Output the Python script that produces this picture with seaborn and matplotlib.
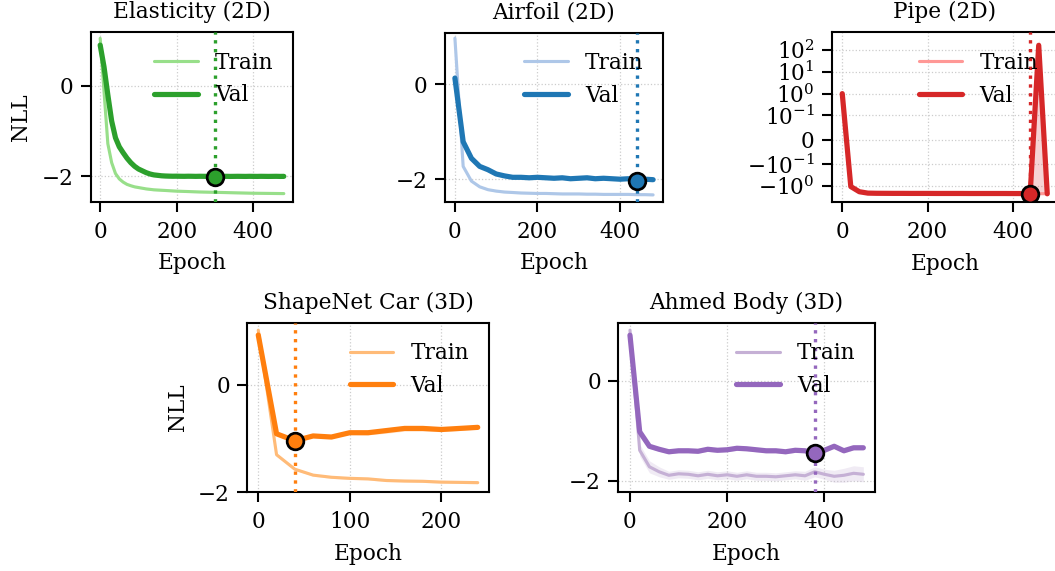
import numpy as np
import matplotlib
matplotlib.use("Agg")
import matplotlib.pyplot as plt
from matplotlib.ticker import NullLocator
import seaborn as sns

# ---------------------------------------------------------------- data
titles = ["Elasticity (2D)", "Airfoil (2D)", "Pipe (2D)", "ShapeNet Car (3D)", "Ahmed Body (3D)"]

# Elasticity (logged every 10 epochs)
elas_epochs = list(range(0, 481, 10))
elas_train = [1.05, -0.12, -1.28, -1.70, -1.94, -2.06, -2.13, -2.18, -2.21, -2.235,
              -2.25, -2.265, -2.28, -2.29, -2.30, -2.305, -2.31, -2.315, -2.32, -2.325,
              -2.33, -2.333, -2.336, -2.339, -2.342, -2.345, -2.348, -2.35, -2.352, -2.354,
              -2.356, -2.358, -2.36, -2.362, -2.364, -2.366, -2.368, -2.37, -2.372, -2.374,
              -2.376, -2.377, -2.378, -2.379, -2.38, -2.381, -2.382, -2.383, -2.384]
elas_val = [0.90, 0.42, -0.20, -0.78, -1.15, -1.35, -1.48, -1.60, -1.70, -1.78,
            -1.84, -1.88, -1.92, -1.95, -1.97, -1.98, -1.99, -1.995, -1.998, -2.000,
            -1.999, -2.001, -2.002, -2.000, -2.001, -2.003, -2.001, -2.002, -2.003, -2.004,
            -2.006, -2.004, -2.003, -2.002, -2.004, -2.003, -2.002, -2.003, -2.004, -2.002,
            -2.003, -2.004, -2.002, -2.003, -2.004, -2.003, -2.002, -2.004, -2.003]
elas_train_sd = [0.02] * 49
elas_val_sd = [0.04] * 49

# Airfoil (every 20 epochs)
air_epochs = list(range(0, 481, 20))
air_train = [0.97, -1.73, -2.04, -2.16, -2.22, -2.25, -2.27, -2.28, -2.29, -2.295,
             -2.30, -2.30, -2.305, -2.31, -2.31, -2.31, -2.315, -2.315, -2.32, -2.32,
             -2.32, -2.32, -2.325, -2.325, -2.33]
air_val = [0.13, -1.21, -1.56, -1.73, -1.80, -1.89, -1.93, -1.96, -1.96, -1.97,
           -1.96, -1.97, -1.98, -1.97, -1.99, -1.98, -1.97, -1.99, -1.98, -1.99,
           -2.00, -1.99, -2.03, -2.00, -2.01]
air_train_sd = [0.02] * 25
air_val_sd = [0.03] * 25

# Pipe (every 20 epochs, one diverging run near the end)
pipe_epochs = list(range(0, 481, 20))
pipe_train = [1.0, -1.12, -1.92, -2.22, -2.26, -2.27, -2.28, -2.28, -2.29, -2.29,
              -2.29, -2.30, -2.30, -2.30, -2.30, -2.31, -2.31, -2.31, -2.31, -2.31,
              -2.32, -2.32, -2.34, -2.33, -2.35]
pipe_val = [1.0, -1.10, -1.90, -2.20, -2.24, -2.25, -2.26, -2.26, -2.27, -2.27,
            -2.27, -2.28, -2.28, -2.28, -2.28, -2.29, -2.29, -2.29, -2.29, -2.29,
            -2.30, -2.30, -2.40, 165.0, -2.36]
pipe_train_sd = [0.02] * 25
pipe_val_sd = [0.05, 0.04, 0.03, 0.02, 0.02, 0.02, 0.02, 0.02, 0.02, 0.02,
               0.02, 0.02, 0.02, 0.02, 0.02, 0.02, 0.02, 0.02, 0.02, 0.02,
               0.02, 0.02, 0.05, 167.0, 0.04]

# ShapeNet Car (every 20 epochs)
car_epochs = list(range(0, 241, 20))
car_train = [1.02, -1.30, -1.57, -1.68, -1.72, -1.74, -1.75, -1.78, -1.79, -1.795,
             -1.81, -1.815, -1.82]
car_val = [0.93, -0.91, -1.04, -0.95, -0.97, -0.89, -0.89, -0.85, -0.81, -0.81,
           -0.83, -0.81, -0.79]
car_train_sd = [0.02] * 13
car_val_sd = [0.02, 0.03, 0.02, 0.03, 0.02, 0.03, 0.04, 0.05, 0.05, 0.05, 0.04, 0.04, 0.03]

# Ahmed Body (every 20 epochs)
ahmed_epochs = list(range(0, 481, 20))
ahmed_train = [1.01, -1.39, -1.72, -1.82, -1.89, -1.86, -1.87, -1.90, -1.87, -1.90,
               -1.88, -1.91, -1.88, -1.91, -1.91, -1.92, -1.90, -1.88, -1.90, -1.82,
               -1.87, -1.91, -1.89, -1.85, -1.87]
ahmed_val = [0.91, -1.02, -1.31, -1.37, -1.42, -1.40, -1.40, -1.41, -1.37, -1.39,
             -1.38, -1.35, -1.36, -1.38, -1.40, -1.40, -1.42, -1.39, -1.40, -1.45,
             -1.39, -1.31, -1.40, -1.34, -1.34]
ahmed_train_sd = [0.10, 0.12, 0.12, 0.10, 0.08, 0.08, 0.08, 0.08, 0.08, 0.08,
                  0.08, 0.08, 0.08, 0.08, 0.08, 0.08, 0.08, 0.08, 0.09, 0.10,
                  0.10, 0.12, 0.14, 0.15, 0.15]
ahmed_val_sd = [0.04] * 25

train_colors = ["#98df8a", "#aec7e8", "#ff9896", "#ffbb78", "#c5b0d5"]
val_colors = ["#2ca02c", "#1f77b4", "#d62728", "#ff7f0e", "#9467bd"]

# ---------------------------------------------------------------- style
sns.set_theme(context="paper", style="ticks")
plt.rcParams["font.family"] = ["DejaVu Serif"]
plt.rcParams["mathtext.fontset"] = "dejavuserif"
FS = 10.4
plt.rcParams.update({
    "font.size": FS, "axes.titlesize": FS, "axes.labelsize": FS,
    "xtick.labelsize": FS, "ytick.labelsize": FS, "legend.fontsize": FS,
    "axes.linewidth": 1.0, "xtick.major.width": 1.0, "ytick.major.width": 1.0,
    "xtick.major.size": 4.8, "ytick.major.size": 4.8,
    "xtick.major.pad": 4.3, "ytick.major.pad": 3.5,
    "axes.titlepad": 6.8, "axes.labelpad": 4.5,
    "axes.edgecolor": "black", "xtick.color": "black", "ytick.color": "black",
    "text.color": "black", "axes.labelcolor": "black",
})

W, H = 1055, 571
fig = plt.figure(figsize=(W / 150, H / 150), dpi=150)


def add_axes_px(left, top, right, bottom):
    return fig.add_axes([left / W, 1 - bottom / H, (right - left) / W, (bottom - top) / H])


boxes = [(91, 32, 293, 202), (445, 32.5, 663, 202), (832, 32.3, 1057.5, 202.3),
         (247.3, 322.7, 488.7, 492.3), (618.3, 322.7, 875, 492.3)]

series = [
    (elas_epochs, elas_train, elas_train_sd, elas_val, elas_val_sd),
    (air_epochs, air_train, air_train_sd, air_val, air_val_sd),
    (pipe_epochs, pipe_train, pipe_train_sd, pipe_val, pipe_val_sd),
    (car_epochs, car_train, car_train_sd, car_val, car_val_sd),
    (ahmed_epochs, ahmed_train, ahmed_train_sd, ahmed_val, ahmed_val_sd),
]
ylims = [(-2.57, 1.19), (-2.48, 1.09), (-5.8, 650), (-2.0, 1.16), (-2.23, 1.16)]
xlims = [(-24, 504), (-24, 504), (-24, 504), (-12, 252), (-24, 504)]
xticks = [[0, 200, 400], [0, 200, 400], [0, 200, 400], [0, 100, 200], [0, 200, 400]]

for i, (box, (ep, tr, tr_sd, va, va_sd)) in enumerate(zip(boxes, series)):
    ax = add_axes_px(*box)
    ep = np.asarray(ep, float)
    tr, tr_sd = np.asarray(tr), np.asarray(tr_sd)
    va, va_sd = np.asarray(va), np.asarray(va_sd)
    ct, cv = train_colors[i], val_colors[i]

    if titles[i].startswith("Pipe"):
        ax.set_yscale("symlog", linthresh=0.1)

    ax.fill_between(ep, tr - tr_sd, tr + tr_sd, color=ct, alpha=0.25, lw=0, zorder=1)
    ax.fill_between(ep, va - va_sd, va + va_sd, color=cv, alpha=0.2, lw=0, zorder=1)
    sns.lineplot(x=ep, y=tr, ax=ax, color=ct, lw=1.5, label="Train", zorder=2)
    sns.lineplot(x=ep, y=va, ax=ax, color=cv, lw=2.5, label="Val", zorder=3)

    best = int(np.argmin(va))
    ax.axvline(ep[best], color=cv, ls=":", lw=1.6, zorder=4)
    ax.plot(ep[best], va[best], "o", ms=8, mfc=cv, mec="black", mew=1.3, zorder=5)

    ax.set_xlim(*xlims[i])
    ax.set_xticks(xticks[i])
    if titles[i].startswith("Pipe"):
        ax.set_yticks([-1, -0.1, 0, 0.1, 1, 10, 100])
        ax.yaxis.set_minor_locator(NullLocator())
    else:
        ax.set_yticks([-2, 0])
    ax.set_ylim(*ylims[i])

    ax.grid(True, ls=":", lw=0.6, color="#cccccc")
    ax.set_axisbelow(True)
    ax.set_title(titles[i])
    ax.set_xlabel("Epoch")
    ax.set_ylabel("NLL" if i in (0, 3) else "")
    ax.legend(loc="upper right", frameon=False)
    for s in ax.spines.values():
        s.set_visible(True)
        s.set_linewidth(1.0)
        s.set_color("black")

fig.savefig("out.png", dpi=150)
